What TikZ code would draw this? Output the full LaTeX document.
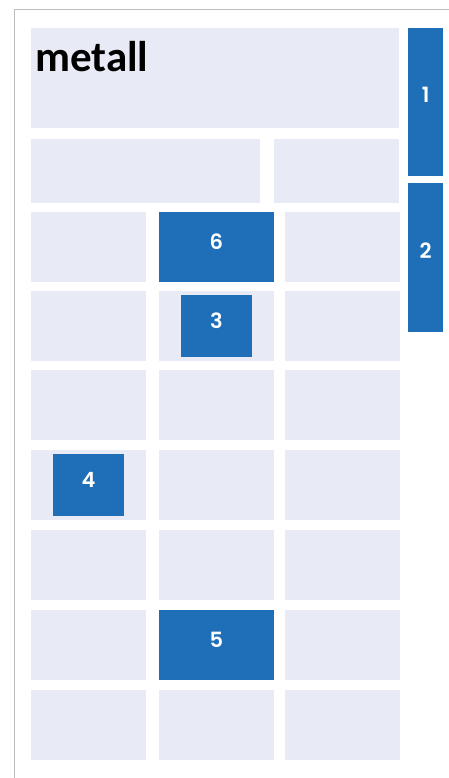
\documentclass[tikz,border=0pt]{standalone}
\usepackage{fontspec}
\setmainfont{Carlito}
\newfontfamily\numfont{Poppins SemiBold}
\definecolor{cellfill}{HTML}{E8EAF6}
\definecolor{markblue}{HTML}{1F6FB8}
\definecolor{framegray}{HTML}{BDBDBD}
\tikzset{
  cell/.style={fill=cellfill, draw=none, inner sep=0pt, anchor=north west,
    minimum width=114.5pt, minimum height=70pt},
  markbox/.style={fill=markblue, draw=none, inner sep=0pt, text=white,
    text height=15pt, text depth=10pt,
    font=\numfont\fontsize{21}{21}\selectfont},
}
\begin{document}
\begin{tikzpicture}[x=1pt, y=-1pt]
    \useasboundingbox (0,0) rectangle (449,778);
    \draw[framegray, line width=1.3pt] (449,9.5) -- (14.5,9.5) -- (14.5,778);

    \node[cell, minimum width=368pt, minimum height=100pt] (head) at (31,28) {};
    \node[anchor=base west, inner sep=0pt, font=\bfseries\fontsize{43}{43}\selectfont] (title) at (35,72) {metall};

    \node[cell, minimum width=229pt, minimum height=64pt] (sub1) at (31,139) {};
    \node[cell, minimum width=125pt, minimum height=64pt] (sub2) at (274,139) {};

    \foreach \r [count=\i] in {212,291,370,450,530,610,690}
      \foreach \c [count=\j] in {31,159,285}
        \node[cell] (c\i\j) at (\c,\r) {};

    \node[markbox, anchor=north west, text depth=14pt, minimum width=35pt, minimum height=148pt] (m1) at (408,28) {1};
    \node[markbox, anchor=north west, text depth=14pt, minimum width=35pt, minimum height=149pt] (m2) at (408,183) {2};
    \node[markbox, minimum width=114.5pt, minimum height=70pt] (m6) at (c12) {6};
    \node[markbox, minimum width=71pt, minimum height=62pt] (m3) at (c22) {3};
    \node[markbox, minimum width=71pt, minimum height=62pt] (m4) at (c41) {4};
    \node[markbox, minimum width=114.5pt, minimum height=70pt] (m5) at (c62) {5};
\end{tikzpicture}
\end{document}
